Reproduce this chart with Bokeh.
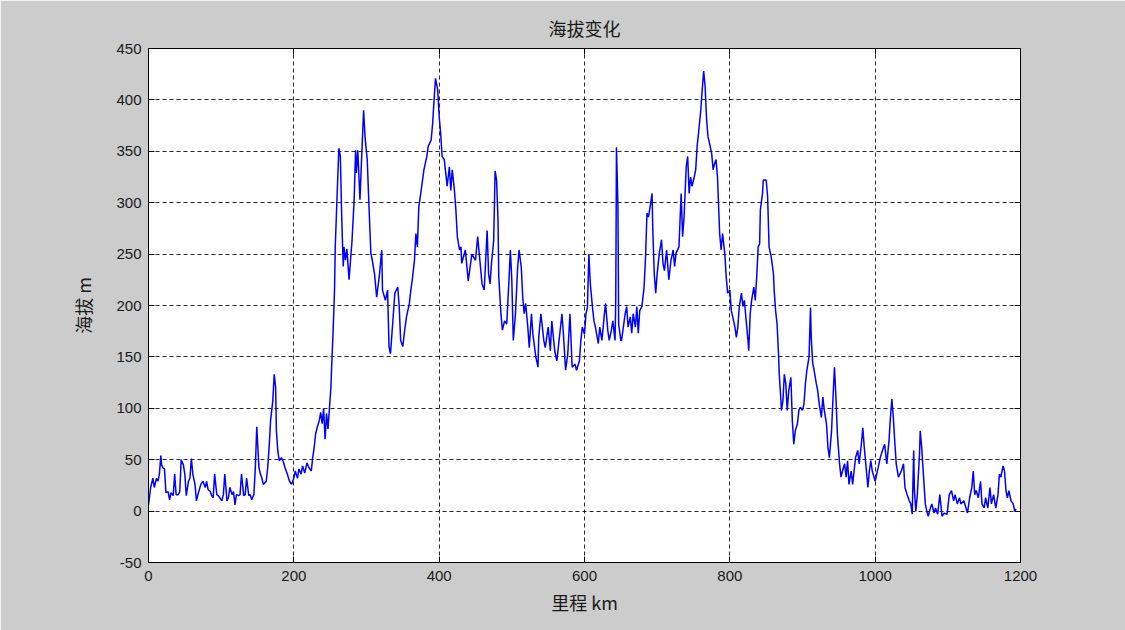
from bokeh.plotting import figure
from bokeh.models import LinearAxis, FixedTicker, Range1d
from bokeh.embed import file_html
from bokeh.resources import INLINE

# ---- data: distance (km) and elevation (m) ----
km_a = [0,3,6,8,11,13,15,17,18,20,
        22,24,27,29,31,34,36,38,41,43,
        45,48,50,52,55,57,59,61,64,66,
        68,72,75,78,80,82,85,87,89,91,
        94,96,98,101,103,105,108,110,112,115,
        117,119,121,124,126,128,131,133,135,138,
        140,142,145,147,149,152,154,156,158,162,
        164,166,168,171,173,175,176,178,180,183,
        186,188,191,194,197,200,202,205,207,210,
        212,215,218,221,224,226,228,230,232,235,
        237,239,241,243,245,247,249,251]
elev_a = [6,23,32,23,32,29,36,54,45,42,
          41,18,19,11,18,15,36,16,16,19,
          50,45,36,15,29,32,51,36,26,10,
          16,26,29,23,29,21,19,15,13,36,
          16,15,13,10,16,36,10,13,23,16,
          19,6,16,15,16,36,15,16,32,15,
          16,11,16,42,82,42,36,32,26,29,
          42,62,88,107,133,120,78,58,49,52,
          47,42,36,29,26,32,39,32,41,36,
          44,37,47,42,39,52,62,75,81,88,
          96,85,100,70,95,80,100,120]

km_b = [252,254,256,257,260,262,264,266,268,269,
        271,273,276,278,280,283,285,286,288,291,
        293,296,298,301,304,306,308,311,314,318,
        321,322,326,329,331,333,336,339,343,345,
        347,350,352,355,359,361,363,366,368,370,
        372,376,379,383,385,389,391,393,395,398,
        400,402,404,407,409,411,414,416,418,421,
        423,425,428,430]
elev_b = [140,174,215,257,316,353,345,283,238,257,
          244,255,225,244,262,303,351,329,351,303,
          338,390,364,342,286,251,244,231,208,231,
          254,215,205,215,160,153,182,212,218,199,
          166,160,173,189,202,215,225,244,270,257,
          296,316,332,345,355,361,377,400,421,410,
          384,368,345,342,329,316,335,312,332,312,
          293,267,254,257]

km_c = [431,436,440,445,450,453,456,459,462,466,
        468,470,472,475,477,479,481,482,485,487,
        490,493,496,498,500,502,505,508,510,513,
        515,517,519,522,524,527,529,533,536,537,
        540,544,546,550,553,555,559,562,565,569,
        571,574,577,580,583,587,589,593,595,597,
        600,602,604,606,608,611,613,615,619,621,
        624,627,629,632,634,637,639,642,643,644,
        646,647,650]
elev_c = [241,254,224,250,244,267,244,221,215,273,
          231,221,241,263,331,322,283,228,192,176,
          185,182,224,254,224,166,192,237,254,237,
          208,192,202,179,159,192,172,150,140,169,
          192,166,159,179,156,185,156,146,166,192,
          172,137,153,192,140,143,137,146,166,179,
          172,192,198,250,221,198,185,179,163,179,
          166,189,202,176,166,176,185,166,205,354,
          296,182,166]

km_d = [651,656,658,660,663,665,667,670,672,674,
        676,679,682,684,686,688,691,693,694,696,
        698,700,703,706,708,710,713,716,719,722,
        724,726,730,733,735,737,740,742,744,746,
        748,751,753,755,757,760,762,764,766,768,
        770,772,775,777,779,781,783,786,788,790,
        793,795,797,800,802,804,807,809,811,813,
        816,818,820,822,825,826,828,830,833,835,
        837,839,841,842,845,846,850,852,854,857,
        860,861,863,865,867]
elev_d = [166,192,199,179,189,173,192,179,199,173,
          195,199,218,247,290,286,299,309,273,231,
          212,231,251,264,241,234,254,225,244,254,
          238,251,257,309,267,286,335,345,309,325,
          316,325,332,355,368,390,410,428,413,381,
          364,358,348,332,338,342,325,270,254,270,
          251,228,212,215,195,189,179,169,179,199,
          212,199,205,189,166,156,192,205,218,205,
          228,257,260,293,309,322,322,306,257,247,
          231,215,195,182,153]

km_e = [868,870,871,873,875,877,879,881,884,886,
        888,890,893,895,897,900,902,904,906,909,
        911,912,914,916,919,921,923,926,928,930,
        933,935,937,940,942,944,946,948,951,953,
        955,958,960,962,964,967,969,971,973,976,
        978,981,983,985,988,990,992,994]
elev_e = [133,111,98,107,133,124,98,117,130,88,
          65,78,85,98,101,98,104,124,137,150,
          198,169,144,137,124,117,104,91,111,98,
          85,62,52,78,111,140,111,75,46,33,
          39,46,33,49,26,39,26,39,52,59,
          46,65,81,62,39,23,39,49]

km_f = [996,1000,1004,1007,1010,1013,1016,1019,1021,1023,
        1025,1027,1029,1032,1036,1039,1041,1044,1047,1049,
        1051,1053,1054,1056,1058,1061,1062,1064,1067,1069,
        1071,1073,1076,1078,1081,1083,1086,1089,1092,1095,
        1099,1102,1105,1108,1110,1113,1116,1118,1122,1125,
        1127,1130,1133,1135,1137,1139,1142,1145,1147,1150,
        1152,1155,1158,1160,1163,1166,1169,1171,1173,1176,
        1178,1180,1182,1184,1187,1190,1192,1194]
elev_f = [39,29,42,52,59,65,46,68,91,109,
          91,67,46,33,39,46,23,16,10,7,
          -3,59,20,0,16,55,78,62,29,7,
          0,-5,3,7,-2,3,-3,16,-5,-2,
          -3,16,20,10,16,7,13,7,10,3,
          -2,13,23,39,16,20,13,29,7,3,
          13,3,23,7,16,3,16,36,33,44,
          39,20,13,20,10,7,0,2]

x_ticks = [0, 200, 400, 600, 800, 1000, 1200]
y_ticks = [-50, 0, 50, 100, 150, 200, 250, 300, 350, 400, 450]

km = km_a + km_b + km_c + km_d + km_e + km_f
elev = elev_a + elev_b + elev_c + elev_d + elev_e + elev_f

BG = "#cccccc"
CJK = "Noto Sans CJK SC"
NUM = "Liberation Sans"

p = figure(frame_width=872, frame_height=514,
           min_border_left=148, min_border_right=105,
           min_border_top=48, min_border_bottom=68,
           x_range=Range1d(0, 1200), y_range=Range1d(-50, 450),
           output_backend="svg", toolbar_location=None,
           background_fill_color="white", border_fill_color=BG,
           title="海拔变化")

p.title.align = "center"
p.title.vertical_align = "top"
p.title.text_font = CJK
p.title.text_font_size = "18px"
p.title.text_font_style = "normal"
p.title.text_color = "#1a1a1a"
p.title.standoff = 11

p.outline_line_color = "black"
p.outline_line_width = 1

p.line(km, elev, line_color="#0000ff", line_width=1.5)

for ax in (p.xaxis[0], p.yaxis[0]):
    ax.major_tick_in = 6
    ax.major_tick_out = 0
    ax.minor_tick_line_color = None
    ax.axis_line_color = "black"
    ax.major_tick_line_color = "black"
    ax.major_label_text_font = NUM
    ax.major_label_text_font_size = "15px"
    ax.major_label_text_color = "#1a1a1a"
    ax.axis_label_text_font = CJK
    ax.axis_label_text_font_size = "18px"
    ax.axis_label_text_font_style = "normal"
    ax.axis_label_text_color = "#1a1a1a"

p.xaxis[0].ticker = FixedTicker(ticks=x_ticks)
p.yaxis[0].ticker = FixedTicker(ticks=y_ticks)
p.yaxis[0].major_label_overrides = {t: str(t) for t in y_ticks}
p.xaxis[0].axis_label = "里程 km"
p.yaxis[0].axis_label = "海拔 m"
p.xaxis[0].major_label_standoff = 8
p.xaxis[0].axis_label_standoff = 5
p.yaxis[0].major_label_standoff = 7
p.yaxis[0].axis_label_standoff = 17

for side, ticks in (("right", y_ticks), ("above", x_ticks)):
    ax = LinearAxis(ticker=FixedTicker(ticks=ticks))
    ax.major_tick_in = 6
    ax.major_tick_out = 0
    ax.minor_tick_line_color = None
    ax.axis_line_color = "black"
    ax.major_tick_line_color = "black"
    ax.major_label_text_font_size = "0px"
    ax.major_label_text_color = None
    ax.major_label_standoff = 0
    p.add_layout(ax, side)

for g in (p.xgrid[0], p.ygrid[0]):
    g.grid_line_color = "#111111"
    g.grid_line_dash = "4 3"
    g.grid_line_width = 1
    g.grid_line_alpha = 0.9

p.xgrid[0].ticker = FixedTicker(ticks=x_ticks)
p.ygrid[0].ticker = FixedTicker(ticks=y_ticks)

open("out.html", "w").write(file_html(p, INLINE))
